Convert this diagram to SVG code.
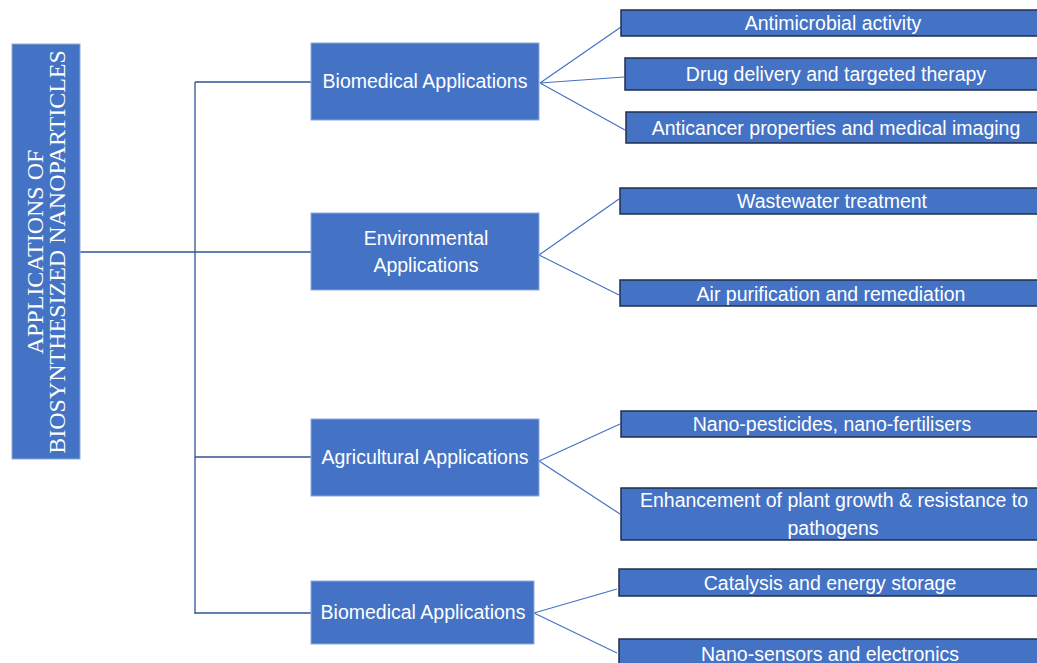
<svg xmlns="http://www.w3.org/2000/svg" width="1037" height="663" viewBox="0 0 1037 663">
<style>
.root{fill:#4472C4;stroke:#8FAADC;stroke-width:1}
.mid{fill:#4472C4;stroke:#8FAADC;stroke-width:1}
.leaf{fill:#4472C4;stroke:#1F2F4F;stroke-width:1.5}
.t{font-family:"Liberation Sans",Arial,sans-serif;font-size:19.5px;fill:#fff;text-anchor:middle}
.rt{font-family:"Liberation Serif","Times New Roman",serif;font-size:24px;fill:#fff;text-anchor:middle}
.trunk{stroke:#2F5597;stroke-width:1.3;fill:none}
.fan{stroke:#4472C4;stroke-width:1.2;fill:none}
</style>
<rect width="1037" height="663" fill="#fff"/>
<g id="connectors">
<path class="trunk" d="M80 252H311M195 82V614M195 82H311M195 457H311M195 613H311"/>
<path class="fan" d="M540 83L621 27M540 83L624 77M540 83L625 130"/>
<path class="fan" d="M539 255L619 199M539 255L619 295"/>
<path class="fan" d="M539 461L620 424M539 461L620 514"/>
<path class="fan" d="M534 613L617 589M534 613L617 653"/>
</g>
<g id="root">
<rect class="root" x="12" y="44" width="68" height="415"/>
<text class="rt" transform="translate(43 252) rotate(-90)">APPLICATIONS OF</text>
<text class="rt" transform="translate(65 252) rotate(-90)">BIOSYNTHESIZED NANOPARTICLES</text>
</g>
<g id="biomedical">
<rect class="mid" x="311" y="43" width="228" height="77"/>
<text class="t" x="425" y="88">Biomedical Applications</text>
</g>
<g id="environmental">
<rect class="mid" x="311" y="213" width="228" height="77"/>
<text class="t" x="426" y="245">Environmental</text>
<text class="t" x="426" y="272">Applications</text>
</g>
<g id="agricultural">
<rect class="mid" x="311" y="419" width="228" height="77"/>
<text class="t" x="425" y="464">Agricultural Applications</text>
</g>
<g id="biomedical2">
<rect class="mid" x="311" y="581" width="223" height="63"/>
<text class="t" x="423" y="619">Biomedical Applications</text>
</g>
<g id="antimicrobial">
<rect class="leaf" x="621" y="10" width="425" height="26"/>
<text class="t" x="833" y="30">Antimicrobial activity</text>
</g>
<g id="drug">
<rect class="leaf" x="625" y="58" width="421" height="32"/>
<text class="t" x="836" y="81">Drug delivery and targeted therapy</text>
</g>
<g id="anticancer">
<rect class="leaf" x="626" y="112" width="420" height="31"/>
<text class="t" x="836" y="135">Anticancer properties and medical imaging</text>
</g>
<g id="wastewater">
<rect class="leaf" x="620" y="188" width="426" height="26"/>
<text class="t" x="832" y="208">Wastewater treatment</text>
</g>
<g id="air">
<rect class="leaf" x="620" y="280" width="426" height="26"/>
<text class="t" x="831" y="301">Air purification and remediation</text>
</g>
<g id="nanopest">
<rect class="leaf" x="621" y="411" width="425" height="26"/>
<text class="t" x="832" y="431">Nano-pesticides, nano-fertilisers</text>
</g>
<g id="enhancement">
<rect class="leaf" x="621" y="488" width="425" height="52"/>
<text class="t" x="834" y="507">Enhancement of plant growth &amp; resistance to</text>
<text class="t" x="833" y="535">pathogens</text>
</g>
<g id="catalysis">
<rect class="leaf" x="619" y="569" width="427" height="27"/>
<text class="t" x="830" y="590">Catalysis and energy storage</text>
</g>
<g id="nanosensors">
<rect class="leaf" x="619" y="639" width="427" height="30"/>
<text class="t" x="830" y="661">Nano-sensors and electronics</text>
</g>
</svg>
